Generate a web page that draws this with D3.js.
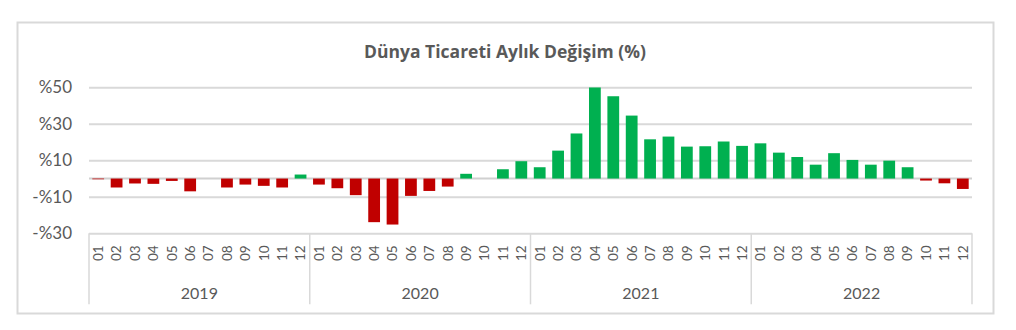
<!DOCTYPE html>
<html>
<head>
<meta charset="utf-8">
<script src="https://cdn.jsdelivr.net/npm/d3@7"></script>
<style>
  body { margin: 0; background: #fff; }
  text { font-family: Lato, "Noto Sans", sans-serif; fill: #595959; }
</style>
</head>
<body>
<div id="chart"></div>
<script>
// data
var years = ["2019", "2020", "2021", "2022"];
var months = ["01", "02", "03", "04", "05", "06", "07", "08", "09", "10", "11", "12"];
var v2019 = [-0.4, -4.9, -2.7, -2.9, -1.3, -7.0, 0, -4.9, -3.3, -4.0, -4.9, 2.2];
var v2020 = [-3.3, -5.3, -9.1, -23.9, -25.2, -9.5, -6.8, -4.4, 2.6, 0, 5.1, 9.5];
var v2021 = [6.2, 15.3, 24.7, 49.9, 45.1, 34.5, 21.5, 23.0, 17.5, 17.7, 20.3, 17.9];
var v2022 = [19.3, 14.2, 11.8, 7.6, 13.9, 10.2, 7.6, 9.8, 6.2, -1.1, -2.6, -5.7];
var yTicks = [50, 30, 10, -10, -30];
var title = "Dünya Ticareti Aylık Değişim (%)";

var svgWidth = 1016;
var svgHeight = 330;

var margin = { top: 87.3, right: 44, bottom: 96.7, left: 89 };
var width = svgWidth - margin.left - margin.right;
var height = svgHeight - margin.top - margin.bottom;

// flatten into one table for the scales
var series = [v2019, v2020, v2021, v2022];
var data = [];
years.forEach(function(y, i) {
  months.forEach(function(m, j) {
    data.push({ key: y + "-" + m, year: y, month: m, value: series[i][j] });
  });
});

var svg = d3.select("#chart")
  .append("svg")
  .attr("width", svgWidth)
  .attr("height", svgHeight);

// outer frame
svg.append("rect")
  .attr("x", 17.5)
  .attr("y", 22.5)
  .attr("width", 976)
  .attr("height", 291)
  .attr("fill", "none")
  .attr("stroke", "#d9d9d9")
  .attr("stroke-width", 2);

svg.append("text")
  .attr("x", 505)
  .attr("y", 58)
  .attr("text-anchor", "middle")
  .attr("font-size", 17.5)
  .attr("font-weight", "bold")
  .style("font-family", "'Open Sans', sans-serif")
  .text(title);

var chartGroup = svg.append("g")
  .attr("transform", `translate(${margin.left}, ${margin.top})`);

// scales
var xScale = d3.scaleBand()
  .domain(data.map(d => d.key))
  .range([0, width])
  .paddingInner(0.36)
  .paddingOuter(0.18);

var yScale = d3.scaleLinear()
  .domain([-30, 50])
  .range([height, 0]);

// y axis + gridlines
var leftAxis = d3.axisLeft(yScale)
  .tickValues(yTicks)
  .tickSize(-width)
  .tickPadding(17)
  .tickFormat(d => (d < 0 ? "-" : "") + "%" + Math.abs(d));

var yAxisG = chartGroup.append("g").call(leftAxis);
yAxisG.select(".domain").remove();
yAxisG.selectAll("line").attr("stroke", "#d9d9d9").attr("stroke-width", 2);
yAxisG.selectAll("text").attr("font-size", 17).attr("fill", "#595959");

// zero line
chartGroup.append("line")
  .attr("x1", 0)
  .attr("x2", width)
  .attr("y1", yScale(0))
  .attr("y2", yScale(0))
  .attr("stroke", "#d0d0d0")
  .attr("stroke-width", 2);

// bars
chartGroup.selectAll(".bar")
  .data(data)
  .enter()
  .append("rect")
  .attr("class", "bar")
  .attr("x", d => xScale(d.key))
  .attr("width", xScale.bandwidth())
  .attr("y", d => yScale(Math.max(0, d.value)))
  .attr("height", d => Math.abs(yScale(d.value) - yScale(0)))
  .attr("fill", d => d.value < 0 ? "#c00000" : "#00b050");

// month labels
var bottomAxis = d3.axisBottom(xScale)
  .tickSize(0)
  .tickFormat(k => k.slice(5));

var xAxisG = chartGroup.append("g")
  .attr("transform", `translate(0, ${height})`)
  .call(bottomAxis);
xAxisG.select(".domain").remove();
xAxisG.selectAll("text")
  .attr("transform", "rotate(-90)")
  .attr("text-anchor", "end")
  .attr("x", -12)
  .attr("y", 0)
  .attr("dy", "0.36em")
  .attr("font-size", 13.5)
  .attr("fill", "#595959");

// year groups
var step = xScale.step();
var yearG = chartGroup.append("g")
  .attr("transform", `translate(0, ${height})`);

yearG.selectAll(".sep")
  .data(d3.range(years.length + 1))
  .enter()
  .append("line")
  .attr("x1", i => i * 12 * step)
  .attr("x2", i => i * 12 * step)
  .attr("y1", 0)
  .attr("y2", 71)
  .attr("stroke", "#d9d9d9")
  .attr("stroke-width", 1.5);

yearG.selectAll(".year")
  .data(years)
  .enter()
  .append("text")
  .attr("x", (d, i) => (i + 0.5) * 12 * step)
  .attr("y", 65.5)
  .attr("text-anchor", "middle")
  .attr("font-size", 16)
  .text(d => d);
</script>
</body>
</html>
